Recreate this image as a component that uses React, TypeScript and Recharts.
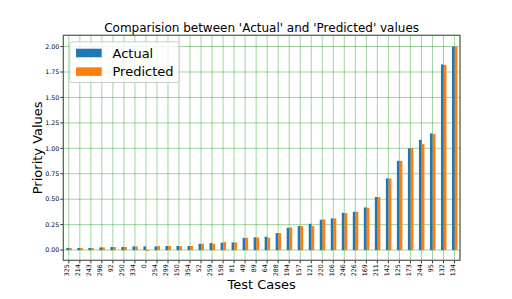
import React from 'react'
import { BarChart, Bar, XAxis, YAxis, CartesianGrid } from 'recharts'

// test cases in the order they appear on the x axis
const categories = [
  '325', '214', '243', '296', '92', '250', '334', '0', '254', '299', '150', '354',
  '52', '259', '158', '81', '49', '89', '64', '288', '194', '157', '121', '220',
  '106', '246', '226', '169', '211', '142', '125', '173', '244', '95', '132', '134',
]

const actualValues = [
  0.02, 0.02, 0.02, 0.026, 0.03, 0.03, 0.036, 0.036, 0.036, 0.04, 0.04, 0.04,
  0.062, 0.069, 0.072, 0.075, 0.12, 0.125, 0.131, 0.167, 0.219, 0.236, 0.258, 0.298,
  0.311, 0.366, 0.376, 0.419, 0.521, 0.704, 0.877, 1.0, 1.083, 1.146, 1.824, 2.0,
]

const predictedValues = [
  0.02, 0.02, 0.02, 0.026, 0.03, 0.03, 0.036, -0.01, 0.04, 0.04, 0.038, 0.04,
  0.062, 0.062, 0.078, 0.075, 0.12, 0.124, 0.121, 0.167, 0.223, 0.236, 0.236, 0.302,
  0.311, 0.363, 0.376, 0.416, 0.521, 0.704, 0.877, 1.004, 1.041, 1.14, 1.82, 2.0,
]

const yTicks = [0, 0.25, 0.5, 0.75, 1.0, 1.25, 1.5, 1.75, 2.0]

const data = categories.map((name, i) => ({
  name,
  actual: actualValues[i],
  predicted: predictedValues[i],
}))

const FONT = '"DejaVu Sans", sans-serif'

// plot box (matplotlib axes)
const PLOT = { left: 63.3, top: 35.3, right: 460, bottom: 260.3 }

function XTick(props: any) {
  const { x, y, payload } = props
  return (
    <text
      transform={`translate(${x - 2.2},${y}) rotate(-90)`}
      textAnchor="end"
      dominantBaseline="central"
      fontSize={6.3}
      fontFamily={FONT}
      fill="#000"
    >
      {payload.value}
    </text>
  )
}

export default function App() {
  return (
    <div style={{ position: 'absolute', left: 0, top: 0, width: 512, height: 299, background: '#fff' }}>
      <BarChart
        width={512}
        height={299}
        data={data}
        margin={{ top: PLOT.top, right: 512 - PLOT.right, bottom: 0, left: 0 }}
        barGap={0}
        barSize={2.76}
      >
        <CartesianGrid stroke="#2ca02c" strokeOpacity={0.45} strokeWidth={1} />
        <XAxis
          dataKey="name"
          interval={0}
          height={299 - PLOT.bottom}
          axisLine={false}
          tickSize={3}
          tickMargin={1}
          tickLine={{ stroke: '#333' }}
          tick={<XTick />}
        />
        <YAxis
          width={PLOT.left}
          domain={[-0.1005, 2.1105]}
          ticks={yTicks}
          tickFormatter={(v: number) => v.toFixed(2)}
          axisLine={false}
          tickSize={3}
          tickMargin={1}
          tickLine={{ stroke: '#333' }}
          tick={{ fontSize: 6.3, fontFamily: FONT, fill: '#000' }}
        />
        <Bar dataKey="actual" fill="#1f77b4" isAnimationActive={false} />
        <Bar dataKey="predicted" fill="#ff7f0e" isAnimationActive={false} />
      </BarChart>

      <svg
        width={512}
        height={299}
        style={{ position: 'absolute', left: 0, top: 0, pointerEvents: 'none' }}
        fontFamily={FONT}
      >
        <rect
          x={PLOT.left}
          y={PLOT.top}
          width={PLOT.right - PLOT.left}
          height={PLOT.bottom - PLOT.top}
          fill="none"
          stroke="#555"
          strokeWidth={1.1}
        />
        <text x={261.6} y={31.5} textAnchor="middle" fontSize={12} fill="#000">
          Comparision between 'Actual' and 'Predicted' values
        </text>
        <text x={261.6} y={288.5} textAnchor="middle" fontSize={13} fill="#000">
          Test Cases
        </text>
        <text
          transform="translate(42,147.8) rotate(-90)"
          textAnchor="middle"
          fontSize={13}
          fill="#000"
        >
          Priority Values
        </text>

        {/* legend */}
        <rect x={69.8} y={41.8} width={109.2} height={40.7} rx={2} fill="#fff" fillOpacity={0.8} stroke="#ccc" strokeWidth={1} />
        <rect x={76} y={48.7} width={25.7} height={8.6} fill="#1f77b4" />
        <rect x={76} y={67.3} width={25.7} height={8.6} fill="#ff7f0e" />
        <text x={112.5} y={57.7} fontSize={13} fill="#000">Actual</text>
        <text x={112.5} y={76.3} fontSize={13} fill="#000">Predicted</text>
      </svg>
    </div>
  )
}
